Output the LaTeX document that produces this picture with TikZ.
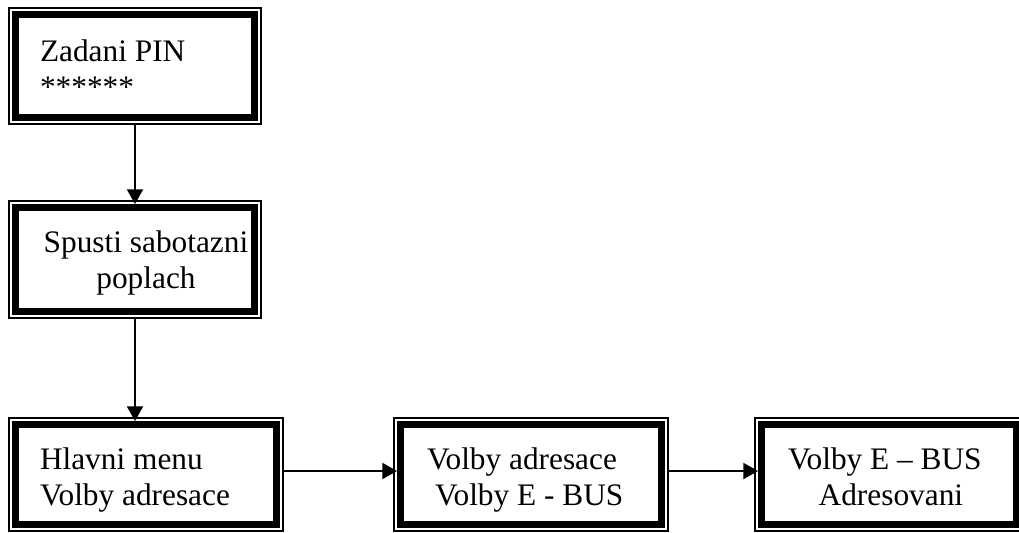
\documentclass[tikz,border=0pt]{standalone}
\usepackage{fontspec}
\setmainfont{Liberation Serif}
\usetikzlibrary{arrows.meta,fit,calc}

\tikzset{
  frame/.style={draw=black, line width=1.1pt, inner sep=0pt, outer sep=0pt},
  inner frame/.style={draw=black, line width=5.4pt},
  conn/.style={draw=black, line width=1.5pt,
    -{Triangle[length=11pt,width=12pt]}},
  txt/.style={font=\fontsize{23.5}{27}\selectfont, inner sep=0pt, outer sep=0pt}
}

\begin{document}
\begin{tikzpicture}[x=0.75pt, y=-0.75pt]
  \useasboundingbox (0,0) rectangle (1019,532);

  % boxes: thin outer rule
  \node[frame, fit={(9,8) (261,124)}]    (b1) {};
  \node[frame, fit={(9,201) (261,318)}]  (b2) {};
  \node[frame, fit={(9,418) (283,531)}]  (b3) {};
  \node[frame, fit={(394,418) (668,531)}] (b4) {};
  \node[frame, fit={(755,418) (1023,531)}] (b5) {};

  % thick inner rule of each box
  \foreach \b in {b1,b2,b3,b4,b5}
    \draw[inner frame] ([xshift=5pt,yshift=5pt]\b.south west)
      rectangle ([xshift=-5pt,yshift=-5pt]\b.north east);

  % box texts (anchored on the baseline of the last line)
  \node[txt, anchor=base west, align=left] (t1) at (40,97)
    {Zadani PIN\\******};
  \node[txt, anchor=base, align=center] (t2) at (146,288)
    {Spusti sabotazni\\poplach};
  \node[txt, anchor=base west, align=left] (t3) at (40,505)
    {Hlavni menu\\Volby adresace};
  \node[txt, anchor=base west, align=left] (t4) at (427,505)
    {Volby adresace\\\hspace*{6pt}Volby E - BUS};
  \node[txt, anchor=base west, align=left] (t5) at (788,505)
    {Volby E – BUS\\\hspace*{23pt}Adresovani};

  % connectors
  \coordinate (lane) at (0,471);
  \draw[conn] (b1.south) -- ($(b2.north)+(0,3)$);
  \draw[conn] (b2.south) -- ($(b2.south |- b3.north)+(0,3)$);
  \draw[conn] (b3.east |- lane) -- ($(b4.west |- lane)+(3,0)$);
  \draw[conn] (b4.east |- lane) -- ($(b5.west |- lane)+(3,0)$);
\end{tikzpicture}
\end{document}
